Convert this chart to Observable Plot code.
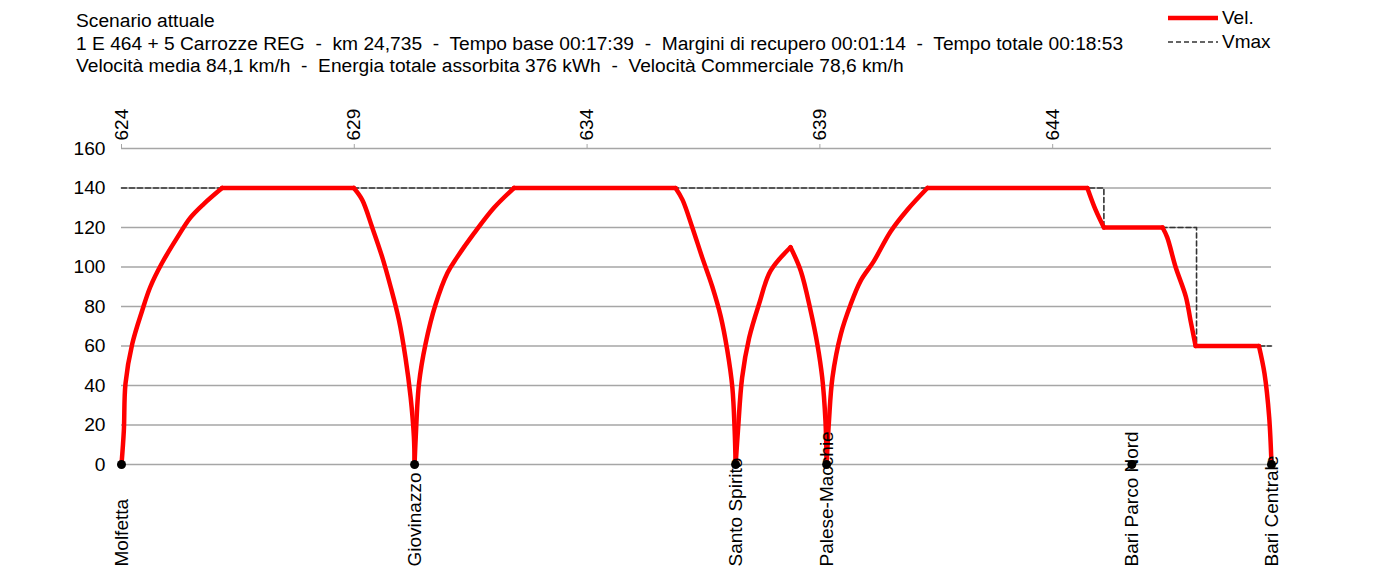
<!DOCTYPE html>
<html><head><meta charset="utf-8">
<script src="https://cdn.jsdelivr.net/npm/d3@7"></script>
<script src="https://cdn.jsdelivr.net/npm/@observablehq/plot@0.6"></script>
<style>
body{margin:0;background:#fff;font-family:"Liberation Sans",Arial,sans-serif;color:#000;}
#wrap{position:relative;width:1375px;height:567px;overflow:hidden;}
.abs{position:absolute;font-size:19px;line-height:22px;white-space:pre;}
#title{left:76px;top:10px;line-height:22.5px;font-size:19.2px;}
#chart{position:absolute;left:0;top:85px;}
</style></head>
<body><div id="wrap">
<div id="title" class="abs"></div>
<div id="legend"></div>
<div class="abs" style="left:1336px;top:107px;">km</div>
<div class="abs" style="left:10px;top:269px;">km/h</div>
<div id="chart"></div>
</div>
<script>
// ---- data ----
const titleLines = [
  "Scenario attuale",
  "1 E 464 + 5 Carrozze REG  -  km 24,735  -  Tempo base 00:17:39  -  Margini di recupero 00:01:14  -  Tempo totale 00:18:53",
  "Velocità media 84,1 km/h  -  Energia totale assorbita 376 kWh  -  Velocità Commerciale 78,6 km/h"
];
const seriesNames = ["Vel.", "Vmax"];
const kmTicks = [624, 629, 634, 639, 644];
const speedTicks = [0, 20, 40, 60, 80, 100, 120, 140, 160];
const stationNames = ["Molfetta", "Giovinazzo", "Santo Spirito", "Palese-Macchie", "Bari Parco Nord", "Bari Centrale"];
const stationKm = [624, 630.295, 637.19, 639.145, 645.7, 648.7];
const vmaxKm = [624, 645.1, 645.1, 647.09, 647.09, 648.7];
const vmaxKmh = [140, 140, 120, 120, 60, 60];
const velKm = [
  624, 624.05, 624.086, 624.23, 624.445, 624.62, 624.87, 625.2, 625.48, 625.77, 626.16,
  628.99, 629.17, 629.385, 629.6, 629.78, 629.96, 630.1, 630.21, 630.28, 630.295,
  630.32, 630.39, 630.53, 630.745, 631.0, 631.21, 631.57, 632.0, 632.43,
  635.9, 636.05, 636.26, 636.47, 636.69, 636.87, 637.01, 637.12, 637.17, 637.19,
  637.24, 637.33, 637.48, 637.69, 637.94, 638.37,
  638.59, 638.80, 638.945, 639.05, 639.12, 639.145,
  639.195, 639.27, 639.45, 639.66, 639.875, 640.16, 640.52, 640.88, 641.31,
  644.745, 644.92, 645.1, 646.36, 646.46, 646.64, 646.86, 646.96, 647.07,
  648.43, 648.55, 648.65, 648.7
];
const velKmh = [
  0, 17, 41, 61, 78, 90, 102, 115, 125, 132, 140,
  140, 134, 120, 105, 90, 73, 54, 34, 14, 0,
  14, 41, 61, 81, 97, 105, 117, 130, 140,
  140, 134, 120, 105, 90, 75, 58, 39, 17, 0,
  17, 44, 64, 81, 98, 110,
  98, 78, 61, 44, 22, 0,
  22, 44, 66, 81, 93, 103, 118, 129, 140,
  140, 129, 120, 120, 115, 100, 85, 73, 60,
  60, 46, 24, 0
];

// ---- build ----
document.getElementById("title").textContent = titleLines.join("\n");
document.getElementById("legend").innerHTML = `
<svg style="position:absolute;left:1160px;top:0" width="70" height="60">
  <line x1="8" x2="58" y1="18" y2="18" stroke="#ff0000" stroke-width="4.5"/>
  <line x1="8" x2="58" y1="42" y2="42" stroke="#333" stroke-width="1.6" stroke-dasharray="5,3"/>
</svg>
<div class="abs" style="left:1222px;top:7px;">${seriesNames[0]}</div>
<div class="abs" style="left:1222px;top:31px;">${seriesNames[1]}</div>`;

// split the speed profile into runs at stops, sharp peaks and flat stretches
const vel = [];
let run = 0;
const n = velKm.length;
for (let i = 0; i < n; i++) {
  vel.push({km: velKm[i], v: velKmh[i], run});
  if (i === 0 || i === n - 1) continue;
  const v = velKmh;
  const split = v[i] === 0 ||
    (v[i] > v[i - 1] && v[i] > v[i + 1]) ||
    v[i] === v[i + 1] || v[i] === v[i - 1];
  if (split) {
    run++;
    vel.push({km: velKm[i], v: velKmh[i], run});
  }
}
const vmax = vmaxKm.map((k, i) => ({km: k, v: vmaxKmh[i]}));
const stations = stationNames.map((s, i) => ({name: s, km: stationKm[i]}));
const x0 = stationKm[0], x1 = stationKm[stationKm.length - 1];

const plot = Plot.plot({
  width: 1375, height: 482,
  marginLeft: 121, marginRight: 104, marginTop: 63, marginBottom: 103,
  style: {fontFamily: "Liberation Sans, Arial, sans-serif", fontSize: "19px", color: "#000", background: "#fff", overflow: "visible"},
  x: {domain: [x0, x1]},
  y: {domain: [0, 160]},
  marks: [
    Plot.ruleY(speedTicks, {x1: x0, x2: x1, stroke: "#a6a6a6", strokeWidth: 1.3}),
    Plot.axisY({ticks: speedTicks, tickSize: 0, tickPadding: 16, label: null, fontSize: 19.2}),
    Plot.axisX({anchor: "top", ticks: kmTicks, tickRotate: -90, tickSize: 5, tickPadding: 3, label: null, fontSize: 19, stroke: "#a6a6a6", tickFormat: d => String(d)}),
    Plot.line(vmax, {x: "km", y: "v", stroke: "#333", strokeWidth: 1.6, strokeDasharray: "5,3"}),
    Plot.line(vel, {x: "km", y: "v", z: "run", stroke: "#ff0000", strokeWidth: 4.5, strokeLinejoin: "round", strokeLinecap: "round", curve: "catmull-rom"}),
    Plot.dot(stations, {x: "km", y: 0, r: 4.5, fill: "#000"}),
    Plot.text(stations, {x: "km", y: 0, text: "name", rotate: -90, textAnchor: "start", dy: 102, fontSize: 19, fill: "#000"})
  ]
});
document.getElementById("chart").appendChild(plot);
</script>
</body></html>
